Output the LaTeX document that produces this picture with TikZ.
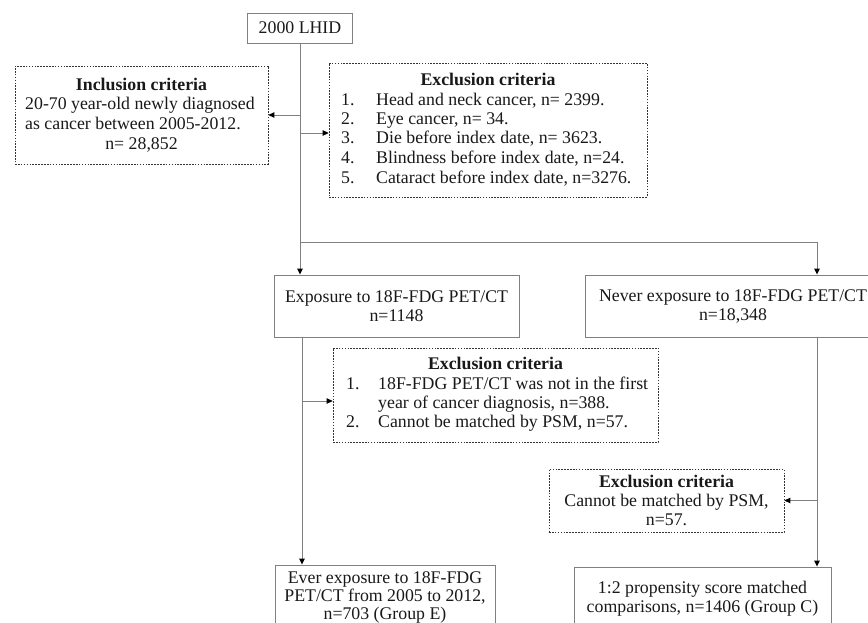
\documentclass[tikz,border=0pt]{standalone}
\usepackage{fontspec}
\setmainfont{Liberation Serif}
\usetikzlibrary{arrows.meta}
\begin{document}
\begin{tikzpicture}[x=1pt,y=-1pt,
  solidbox/.style={draw=black!50, line width=0.9pt, rectangle, inner sep=0pt, align=center,
     font=\fontsize{17.8}{19}\selectfont, text=black!90},
  dotbox/.style={draw=black!80, line width=0.7pt, dash pattern=on 1.6pt off 1.3pt, rectangle, inner sep=0pt,
     align=center, font=\fontsize{17.8}{19}\selectfont, text=black!90},
  conn/.style={draw=black!50, line width=0.9pt},
  arr/.style={conn, -{Triangle[length=6pt,width=5.5pt,color=black]}},
  tl/.style={font=\fontsize{17.8}{19}\selectfont, text=black!90, inner sep=0pt, anchor=west,
     text height=12pt, text depth=4pt},
  tc/.style={tl, anchor=center}
]
\clip (0,0) rectangle (868,623);
\fill[white] (0,0) rectangle (868,623);

% boxes
\node[solidbox, minimum width=105pt, minimum height=30pt] (lhid) at (300,28) {2000 LHID};
\node[dotbox, minimum width=253pt, minimum height=98pt] (incl) at (141.5,115) {};
\node[dotbox, minimum width=318pt, minimum height=134pt] (excl1) at (488,130) {};
\node[solidbox, minimum width=245pt, minimum height=62pt] (expo) at (396.5,306)
  {Exposure to 18F-FDG PET/CT\\ n=1148};
\node[solidbox, minimum width=296pt, minimum height=62pt] (never) at (733,306)
  {Never exposure to 18F-FDG PET/CT\\ n=18,348};
\node[dotbox, minimum width=325pt, minimum height=94pt] (excl2) at (495.5,395) {};
\node[dotbox, minimum width=235pt, minimum height=63pt] (excl3) at (666.5,500.5)
  {\textbf{Exclusion criteria}\\ Cannot be matched by PSM,\\ n=57.};
\node[solidbox, minimum width=220pt, minimum height=64pt, font=\fontsize{17.8}{18}\selectfont] (ever) at (385,597)
  {Ever exposure to 18F-FDG\\ PET/CT from 2005 to 2012,\\ n=703 (Group E)};
\node[solidbox, minimum width=257pt, minimum height=64pt] (match) at (702.5,599)
  {1:2 propensity score matched\\ comparisons, n=1406 (Group C)};

% inclusion text
\node[tc] (inT) at (141.5,87) {\textbf{Inclusion criteria}};
\node[tl] (inA) at (25,106) {20-70 year-old newly diagnosed};
\node[tl] (inB) at (25,126) {as cancer between 2005-2012.};
\node[tc] (inC) at (141.5,146) {n= 28,852};

% exclusion 1 text
\node[tc] (e1T) at (488,82) {\textbf{Exclusion criteria}};
\node[tl] (e1n1) at (341,102) {1.};
\node[tl] (e1t1) at (376,102) {Head and neck cancer, n= 2399.};
\node[tl] (e1n2) at (341,121) {2.};
\node[tl] (e1t2) at (376,121) {Eye cancer, n= 34.};
\node[tl] (e1n3) at (341,140) {3.};
\node[tl] (e1t3) at (376,140) {Die before index date, n= 3623.};
\node[tl] (e1n4) at (341,160) {4.};
\node[tl] (e1t4) at (376,160) {Blindness before index date, n=24.};
\node[tl] (e1n5) at (341,180) {5.};
\node[tl] (e1t5) at (376,180) {Cataract before index date, n=3276.};

% exclusion 2 text
\node[tc] (e2T) at (495.5,365) {\textbf{Exclusion criteria}};
\node[tl] (e2n1) at (346,385) {1.};
\node[tl] (e2t1) at (378,385) {18F-FDG PET/CT was not in the first};
\node[tl] (e2t1b) at (378,404) {year of cancer diagnosis, n=388.};
\node[tl] (e2n2) at (346,423) {2.};
\node[tl] (e2t2) at (378,423) {Cannot be matched by PSM, n=57.};

% coordinates
\coordinate (sp) at (300,242);
\coordinate (rx) at (817,242);
\coordinate (lx) at (302,337);
\coordinate (a1) at (300,133);
\coordinate (a2) at (302,401);

% connectors
\draw[arr] (lhid.south) -- (lhid.south |- expo.north);
\draw[arr] (lhid.south |- incl.east) -- (incl.east);
\draw[arr] (a1) -- (excl1.west |- a1);
\draw[arr] (sp) -| (never.north -| rx);
\draw[arr] (expo.south -| lx) -- (ever.north -| lx);
\draw[arr] (a2) -- (excl2.west |- a2);
\draw[arr] (never.south -| rx) -- (match.north -| rx);
\draw[arr] (rx |- excl3.east) -- (excl3.east);
\end{tikzpicture}
\end{document}
